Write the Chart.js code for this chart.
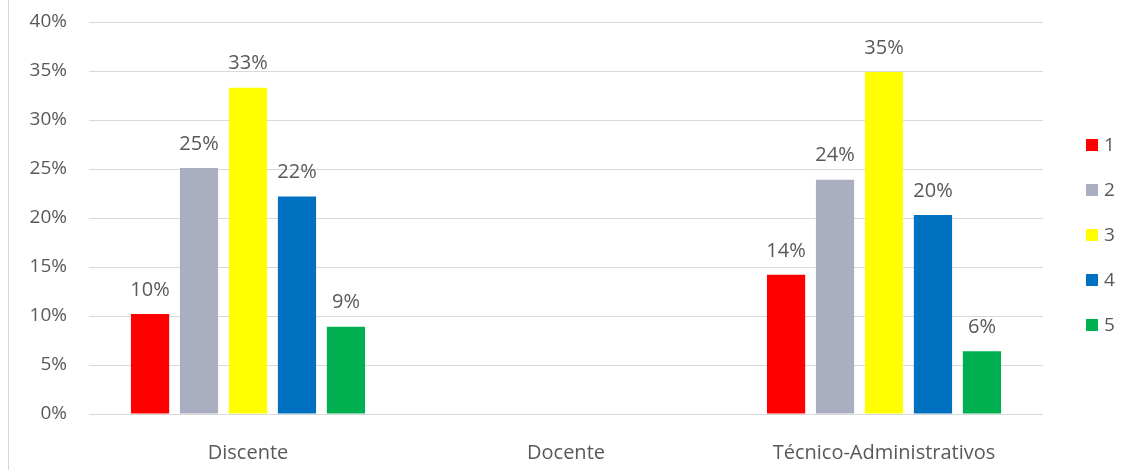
<!DOCTYPE html>
<html>
<head>
<meta charset="utf-8">
<script src="https://cdn.jsdelivr.net/npm/chart.js@4.4.0/dist/chart.umd.min.js"></script>
<style>
    body { margin: 0; background: #fff; }
    #wrap { position: relative; width: 1128px; height: 470px; }
    #frame { position: absolute; left: 8px; top: 0; width: 1px; height: 470px; background: #d6d6d6; }
</style>
</head>
<body>
<div id="wrap">
    <div id="frame"></div>
    <canvas id="barChart" width="1128" height="470"></canvas>
</div>
<script>
// Data
const categories = ['Discente', 'Docente', 'Técnico-Administrativos'];
const seriesNames = ['1', '2', '3', '4', '5'];
const serie1 = [10.2, null, 14.2];
const serie2 = [25.1, null, 23.9];
const serie3 = [33.3, null, 34.9];
const serie4 = [22.2, null, 20.3];
const serie5 = [8.9, null, 6.4];
const yTicks = [0, 5, 10, 15, 20, 25, 30, 35, 40];

const colors = ['#ff0000', '#a9afc1', '#ffff00', '#0070c0', '#00b050'];
const textColor = '#595959';
const fontFamily = "'Open Sans', sans-serif";

Chart.defaults.color = textColor;
Chart.defaults.font.family = fontFamily;

// value labels above the bars
const barLabels = {
    id: 'barLabels',
    afterDatasetsDraw(chart) {
        const ctx = chart.ctx;
        ctx.save();
        ctx.font = '20px ' + fontFamily;
        ctx.fillStyle = textColor;
        ctx.textAlign = 'center';
        ctx.textBaseline = 'bottom';
        chart.data.datasets.forEach((ds, i) => {
            const meta = chart.getDatasetMeta(i);
            meta.data.forEach((bar, j) => {
                const v = ds.data[j];
                if (v == null) return;
                ctx.fillText(Math.round(v) + '%', bar.x, bar.y - 14);
            });
        });
        ctx.restore();
    }
};

// legend on the right side
const sideLegend = {
    id: 'sideLegend',
    afterDraw(chart) {
        const ctx = chart.ctx;
        const x = chart.chartArea.right + 43;
        const mid = chart.height / 2;
        ctx.save();
        ctx.font = '19px ' + fontFamily;
        ctx.textBaseline = 'middle';
        ctx.textAlign = 'left';
        chart.data.datasets.forEach((ds, i) => {
            const y = mid + (i - 2) * 45;
            ctx.fillStyle = ds.backgroundColor;
            ctx.fillRect(x, y - 6, 12, 12);
            ctx.fillStyle = textColor;
            ctx.fillText(ds.label, x + 18, y + 1);
        });
        ctx.restore();
    }
};

const allSeries = [serie1, serie2, serie3, serie4, serie5];

new Chart(document.getElementById('barChart'), {
    type: 'bar',
    data: {
        labels: categories,
        datasets: allSeries.map((values, i) => ({
            label: seriesNames[i],
            data: values,
            backgroundColor: colors[i],
            borderWidth: 0,
            categoryPercentage: 0.77,
            barPercentage: 0.78
        }))
    },
    options: {
        responsive: false,
        animation: false,
        layout: {
            padding: { left: 0, right: 85, top: 22, bottom: 0 }
        },
        plugins: {
            legend: { display: false },
            tooltip: { enabled: false }
        },
        scales: {
            y: {
                min: 0,
                max: 40,
                afterFit: (scale) => {
                    scale.width = 89;
                    scale.paddingTop = 0;
                    scale.paddingBottom = 0;
                },
                afterBuildTicks: (scale) => { scale.ticks = yTicks.map(v => ({ value: v })); },
                grid: { color: '#d9d9d9', drawTicks: false },
                border: { display: false },
                ticks: {
                    padding: 22,
                    font: { size: 19 },
                    callback: (v) => v + '%'
                }
            },
            x: {
                afterFit: (scale) => { scale.height = 56; },
                grid: { display: false },
                border: { display: false },
                ticks: {
                    padding: 19,
                    font: { size: 20 }
                }
            }
        }
    },
    plugins: [barLabels, sideLegend]
});
</script>
</body>
</html>
